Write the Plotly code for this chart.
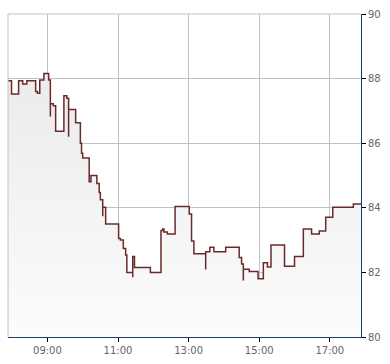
import plotly.graph_objects as go

day = "2024-01-02 "
times = ["07:53", "07:59", "08:11", "08:18", "08:25", "08:40", "08:43", "08:47", "08:54",
         "09:02", "09:05", "09:05", "09:10", "09:14", "09:28", "09:33", "09:36", "09:36",
         "09:48", "09:56", "09:58", "10:00", "10:11", "10:14", "10:24", "10:28", "10:30",
         "10:34", "10:34", "10:39", "11:01", "11:04", "11:09", "11:13", "11:15",
         "11:25", "11:25", "11:27", "11:28", "11:55", "12:13", "12:16", "12:18", "12:24",
         "12:37", "13:01", "13:05", "13:09", "13:29", "13:29", "13:36", "13:43", "14:03",
         "14:26", "14:30", "14:33", "14:33", "14:43", "14:58", "15:07", "15:14", "15:20",
         "15:43", "16:00", "16:15", "16:29", "16:42", "16:53", "17:05", "17:40", "17:53"]
prices = [87.93, 87.52, 87.93, 87.83, 87.93, 87.60, 87.55, 87.96, 88.16,
          87.96, 86.83, 87.22, 87.16, 86.37, 87.47, 87.39, 86.20, 87.04,
          86.63, 86.00, 85.69, 85.54, 84.81, 85.00, 84.75, 84.47, 84.25,
          83.74, 84.02, 83.50, 83.05, 83.00, 82.74, 82.54, 82.00,
          81.85, 82.49, 82.49, 82.15, 82.00, 83.30, 83.34, 83.25, 83.19,
          84.04, 83.81, 82.97, 82.58, 82.09, 82.64, 82.78, 82.64, 82.78,
          82.46, 82.26, 81.75, 82.10, 82.03, 81.80, 82.30, 82.17, 82.85,
          82.19, 82.49, 83.34, 83.19, 83.28, 83.71, 84.02, 84.12, 84.12]
x_ticks = ["09:00", "11:00", "13:00", "15:00", "17:00"]
y_ticks = [80, 82, 84, 86, 88, 90]

xs = [day + t for t in times]
base = [80] * len(xs)

fig = go.Figure()
fig.add_trace(go.Scatter(x=xs, y=base, mode="lines", line=dict(width=0, shape="hv"),
                         hoverinfo="skip", showlegend=False))
fig.add_trace(go.Scatter(
    x=xs, y=prices, mode="lines", line=dict(color="#6b2a2a", width=1.5, shape="hv"),
    fill="tonexty",
    fillgradient=dict(type="vertical", start=80, stop=88.2,
                      colorscale=[[0, "#fcfcfc"], [1, "#ebebeb"]]),
    showlegend=False))

fig.add_shape(type="line", xref="paper", yref="paper", x0=0, x1=0, y0=0, y1=1,
              line=dict(color="#c0c0c0", width=1))
fig.add_shape(type="line", xref="paper", yref="paper", x0=0, x1=1, y0=1, y1=1,
              line=dict(color="#c0c0c0", width=1), layer="below")

fig.update_layout(
    width=390, height=364,
    margin=dict(l=8, r=29, t=12, b=24),
    paper_bgcolor="white", plot_bgcolor="white",
    font=dict(family="DejaVu Sans, Verdana, sans-serif", size=10, color="#666666"),
    xaxis=dict(range=[day + "07:53", day + "17:53"],
               tickvals=[day + t for t in x_ticks], ticktext=x_ticks,
               showgrid=True, gridcolor="#c0c0c0", gridwidth=1,
               showline=True, linecolor="#1c3a6b", linewidth=1,
               ticks="outside", ticklen=4, tickcolor="#000000", zeroline=False),
    yaxis=dict(range=[80, 90], side="right", tickvals=y_ticks,
               showgrid=True, gridcolor="#c0c0c0", gridwidth=1,
               showline=True, linecolor="#1c3a6b", linewidth=1,
               ticks="outside", ticklen=4, tickcolor="#000000", zeroline=False),
)
fig.write_html("out.html")
